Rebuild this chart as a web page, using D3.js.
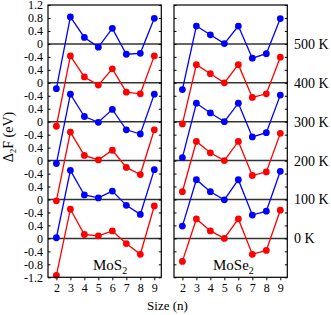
<!DOCTYPE html>
<html>
<head>
<meta charset="utf-8">
<script src="https://cdn.jsdelivr.net/npm/d3@7"></script>
<style>
  body { margin: 0; background: white; }
  text { font-family: "Liberation Serif", "Times New Roman", serif; }
</style>
</head>
<body>
<script>
// sizes on the x axis
var sizes = [2, 3, 4, 5, 6, 7, 8, 9];
var temps = [0, 100, 200, 300, 400, 500];
var tempLabels = ["0 K", "100 K", "200 K", "300 K", "400 K", "500 K"];

// MoS2, second difference of free energy (eV)
var mos2_0K   = [-1.14, 0.90, 0.12, 0.08, 0.23, -0.16, -0.49, 1.00];
var mos2_100K = [-1.18, 0.90, 0.14, 0.05, 0.26, -0.18, -0.46, 0.92];
var mos2_200K = [-1.24, 0.88, 0.16, 0.02, 0.32, -0.21, -0.43, 0.95];
var mos2_300K = [-1.29, 0.85, 0.16, -0.02, 0.38, -0.25, -0.38, 0.85];
var mos2_400K = [-1.34, 0.83, 0.18, -0.07, 0.43, -0.29, -0.34, 0.83];
var mos2_500K = [-1.38, 0.83, 0.20, -0.10, 0.48, -0.32, -0.29, 0.79];

// MoSe2
var mose2_0K   = [-0.71, 0.60, 0.23, 0.00, 0.60, -0.49, -0.37, 0.87];
var mose2_100K = [-0.82, 0.61, 0.24, -0.01, 0.61, -0.48, -0.36, 0.87];
var mose2_200K = [-0.96, 0.59, 0.24, 0.00, 0.59, -0.46, -0.35, 0.84];
var mose2_300K = [-1.11, 0.57, 0.27, 0.00, 0.57, -0.47, -0.34, 0.82];
var mose2_400K = [-1.27, 0.56, 0.28, 0.00, 0.56, -0.45, -0.34, 0.79];
var mose2_500K = [-1.41, 0.55, 0.28, 0.01, 0.55, -0.44, -0.30, 0.78];

// left axis tick labels, top to bottom
var yTickLabels = ["1.2", "0.8", "0.4", "0", "-0.4", "0.4", "0", "-0.4", "0.4", "0",
  "-0.4", "0.4", "0", "-0.4", "0.4", "0", "-0.4", "0.4", "0", "-0.4", "-0.8", "-1.2"];

var step = 1.2; // vertical shift between temperatures

var panels = [
  { name: "MoS", x0: 48, x1: 161.3, labelX: 93, series: [mos2_0K, mos2_100K, mos2_200K, mos2_300K, mos2_400K, mos2_500K] },
  { name: "MoSe", x0: 174, x1: 287.3, labelX: 213, series: [mose2_0K, mose2_100K, mose2_200K, mose2_300K, mose2_400K, mose2_500K] }
];

var plotTop = 5, plotBottom = 277.3;
var yScale = d3.scaleLinear().domain([-1.2, 7.2]).range([plotBottom, plotTop]);
var colors = ["#ff0000", "#0000ff"];

var svg = d3.select("body")
  .append("svg")
  .attr("width", 331)
  .attr("height", 315);

panels.forEach(function(p, pi){
  var xScale = d3.scaleLinear().domain([1.4, 9.5]).range([p.x0, p.x1]);
  var g = svg.append("g");

  // zero lines
  g.selectAll(".zero")
    .data(temps)
    .enter()
    .append("line")
    .attr("x1", p.x0).attr("x2", p.x1)
    .attr("y1", (d,i) => yScale(i*step))
    .attr("y2", (d,i) => yScale(i*step))
    .attr("stroke", "#333")
    .attr("stroke-width", 1.5);

  // y ticks, inward on both sides
  var ticks = yTickLabels.map((d,i) => 7.2 - 0.4*i);
  g.append("g")
    .attr("transform", "translate(" + p.x0 + ",0)")
    .call(d3.axisRight(yScale).tickValues(ticks).tickSize(2.5).tickFormat(""))
    .call(a => a.select(".domain").remove());
  g.append("g")
    .attr("transform", "translate(" + p.x1 + ",0)")
    .call(d3.axisLeft(yScale).tickValues(ticks).tickSize(2.5).tickFormat(""))
    .call(a => a.select(".domain").remove());

  // x axis
  var xa = g.append("g")
    .attr("transform", "translate(0," + plotBottom + ")")
    .call(d3.axisBottom(xScale).tickValues(sizes).tickSize(3).tickPadding(3).tickFormat(d3.format("d")))
    .attr("font-family", "Liberation Serif")
    .attr("font-size", 12);
  xa.select(".domain").remove();

  // series
  var line = d3.line()
    .x((d,i) => xScale(sizes[i]))
    .y(d => d);

  p.series.forEach(function(vals, ti){
    var col = colors[ti % 2];
    var ys = vals.map(v => yScale(v + ti*step));
    g.append("path")
      .attr("d", line(ys))
      .attr("fill", "none")
      .attr("stroke", col)
      .attr("stroke-width", 1.3);
    g.selectAll(".pt" + ti)
      .data(ys)
      .enter()
      .append("circle")
      .attr("cx", (d,i) => xScale(sizes[i]))
      .attr("cy", d => d)
      .attr("r", 3.4)
      .attr("fill", col);
  });

  // frame
  g.append("rect")
    .attr("x", p.x0).attr("y", plotTop)
    .attr("width", p.x1 - p.x0)
    .attr("height", plotBottom - plotTop)
    .attr("fill", "none")
    .attr("stroke", "black")
    .attr("stroke-width", 1.2);

  // material label
  var lab = g.append("text")
    .attr("x", p.labelX)
    .attr("y", 270)
    .attr("font-size", 15)
    .text(p.name);
  lab.append("tspan")
    .attr("font-size", 10)
    .attr("dy", 4)
    .text("2");
});

// left tick labels
svg.append("g")
  .selectAll("text")
  .data(yTickLabels)
  .enter()
  .append("text")
  .attr("x", 43)
  .attr("y", (d,i) => yScale(7.2 - 0.4*i))
  .attr("dy", "0.35em")
  .attr("text-anchor", "end")
  .attr("font-size", 12)
  .text(d => d);

// temperature labels on the right
svg.append("g")
  .selectAll("text")
  .data(tempLabels)
  .enter()
  .append("text")
  .attr("x", 294)
  .attr("y", (d,i) => yScale(i*step))
  .attr("dy", "0.35em")
  .attr("font-size", 14)
  .text(d => d);

// axis titles
svg.append("text")
  .attr("x", 167.5)
  .attr("y", 310)
  .attr("text-anchor", "middle")
  .attr("font-size", 13)
  .text("Size (n)");

var yt = svg.append("text")
  .attr("transform", "translate(13,137) rotate(-90)")
  .attr("text-anchor", "middle")
  .attr("font-size", 14);
yt.append("tspan").text("Δ");
yt.append("tspan").attr("font-size", 9).attr("dy", 3).text("2");
yt.append("tspan").attr("dy", -3).text("F (eV)");
</script>
</body>
</html>
